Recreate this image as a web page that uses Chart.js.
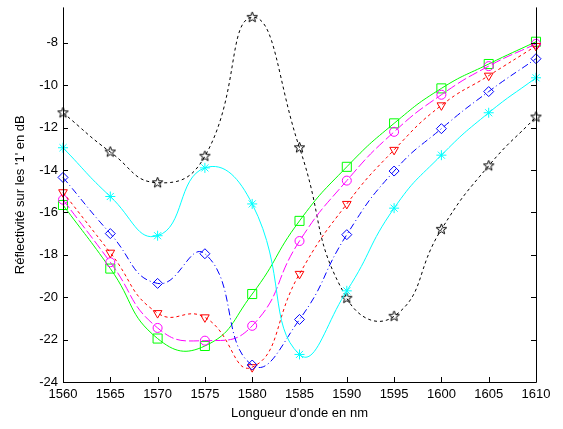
<!DOCTYPE html>
<html><head><meta charset="utf-8">
<script src="https://cdn.jsdelivr.net/npm/chart.js@4/dist/chart.umd.min.js"></script>
<style>html,body{margin:0;padding:0;background:#fff}canvas{display:block}</style>
</head><body>
<canvas id="c" width="563" height="429"></canvas>
<script>
const wavelengths = [1560,1565,1570,1575,1580,1585,1590,1595,1600,1605,1610];
const seriesBlack   = [-11.3,-13.15,-14.6,-13.35,-6.8,-12.95,-20.05,-20.9,-16.8,-13.8,-11.5];
const seriesCyan    = [-12.95,-15.25,-17.1,-13.9,-15.6,-22.7,-19.7,-15.8,-13.3,-11.3,-9.65];
const seriesBlue    = [-14.35,-17.0,-19.35,-17.95,-23.2,-21.05,-17.05,-14.05,-12.05,-10.3,-8.75];
const seriesRed     = [-15.05,-17.9,-20.75,-20.95,-23.3,-18.9,-15.6,-13.05,-10.95,-9.55,-8.15];
const seriesMagenta = [-15.4,-18.35,-21.45,-22.05,-21.35,-17.35,-14.5,-12.2,-10.45,-9.1,-8.05];
const seriesGreen   = [-15.65,-18.65,-21.95,-22.3,-19.85,-16.4,-13.85,-11.8,-10.15,-9.0,-7.95];
const xTicks = [1560,1565,1570,1575,1580,1585,1590,1595,1600,1605,1610];
const yTicks = [-24,-22,-20,-18,-16,-14,-12,-10,-8];
const xTitle = "Longueur d'onde en nm";
const yTitle = "Réflectivité sur les '1' en dB";

function pentagram(color){
  const c = document.createElement('canvas'); c.width = 13; c.height = 13;
  const g = c.getContext('2d'); g.strokeStyle = color; g.lineWidth = 1;
  g.beginPath();
  for (let i=0;i<10;i++){
    const r = i%2===0 ? 5.5 : 2.3;
    const a = -Math.PI/2 + i*Math.PI/5;
    const px = 6.5 + r*Math.cos(a), py = 6.5 + r*Math.sin(a);
    if(i===0) g.moveTo(px,py); else g.lineTo(px,py);
  }
  g.closePath(); g.stroke();
  return c;
}
const pts = arr => wavelengths.map((x,i)=>({x:x,y:arr[i]}));
const FONT = "'Liberation Sans', Arial, sans-serif";

function ds(data,color,dash,style,radius,rot){
  return {data:pts(data),borderColor:color,backgroundColor:'transparent',borderWidth:1,borderDash:dash,
    pointStyle:style,pointRadius:radius,pointHoverRadius:radius,pointBorderColor:color,pointBackgroundColor:'transparent',
    pointBorderWidth:1,pointRotation:rot||0,tension:0.5,clip:false,fill:false};
}

const boxPlugin = {
  id:'box',
  afterDatasetsDraw(chart){
    const {ctx, chartArea:a, scales:{x,y}} = chart;
    ctx.save(); ctx.strokeStyle='#000'; ctx.lineWidth=1;
    ctx.beginPath();
    ctx.moveTo(a.left+0.5,a.top); ctx.lineTo(a.left+0.5,a.bottom+0.5);
    ctx.lineTo(a.right+0.5,a.bottom+0.5); ctx.lineTo(a.right+0.5,a.top);
    xTicks.forEach(v=>{const px=Math.round(x.getPixelForValue(v))+0.5; ctx.moveTo(px,a.bottom); ctx.lineTo(px,a.bottom-5);});
    yTicks.forEach(v=>{const py=Math.round(y.getPixelForValue(v))+0.5; ctx.moveTo(a.left,py); ctx.lineTo(a.left+5,py); ctx.moveTo(a.right,py); ctx.lineTo(a.right-5,py);});
    ctx.stroke(); ctx.restore();
  }
};

new Chart(document.getElementById('c'),{
  type:'line',
  data:{datasets:[
    ds(seriesCyan,'#00FFFF',[],'star',5),
    ds(seriesBlue,'#0000FF',[7,3,1,3],'rectRot',5),
    ds(seriesRed,'#FF0000',[3,3],'triangle',5,180),
    ds(seriesMagenta,'#FF00FF',[10,3],'circle',4.5),
    ds(seriesGreen,'#00FF00',[],'rect',6.4),
    ds(seriesBlack,'#000000',[3,3],pentagram('#000'),6)
  ]},
  options:{
    responsive:false, animation:false, devicePixelRatio:1,
    layout:{padding:{left:0,right:27,top:0,bottom:0}},
    plugins:{legend:{display:false},tooltip:{enabled:false}},
    scales:{
      x:{type:'linear',min:1560,max:1610,
        grid:{display:false,drawTicks:false},border:{display:false},
        ticks:{font:{family:FONT,size:13},color:'#000',padding:5,maxRotation:0,callback:v=>String(v)},
        afterBuildTicks:s=>{s.ticks=xTicks.map(v=>({value:v}));},
        afterFit:s=>{s.height=47;s.paddingLeft=0;s.paddingRight=0;},
        title:{display:true,text:xTitle,font:{family:FONT,size:13},color:'#000',padding:{top:0,bottom:8}}
      },
      y:{type:'linear',min:-24,max:-6.33,
        grid:{display:false,drawTicks:false},border:{display:false},
        ticks:{font:{family:FONT,size:13},color:'#000',padding:5,callback:v=>String(v)},
        afterBuildTicks:s=>{s.ticks=yTicks.map(v=>({value:v}));},
        afterFit:s=>{s.width=63;s.paddingTop=0;s.paddingBottom=0;},
        title:{display:true,text:yTitle,font:{family:FONT,size:13},color:'#000',padding:{top:13,bottom:0}}
      }
    }
  },
  plugins:[boxPlugin]
});
</script>
</body></html>
